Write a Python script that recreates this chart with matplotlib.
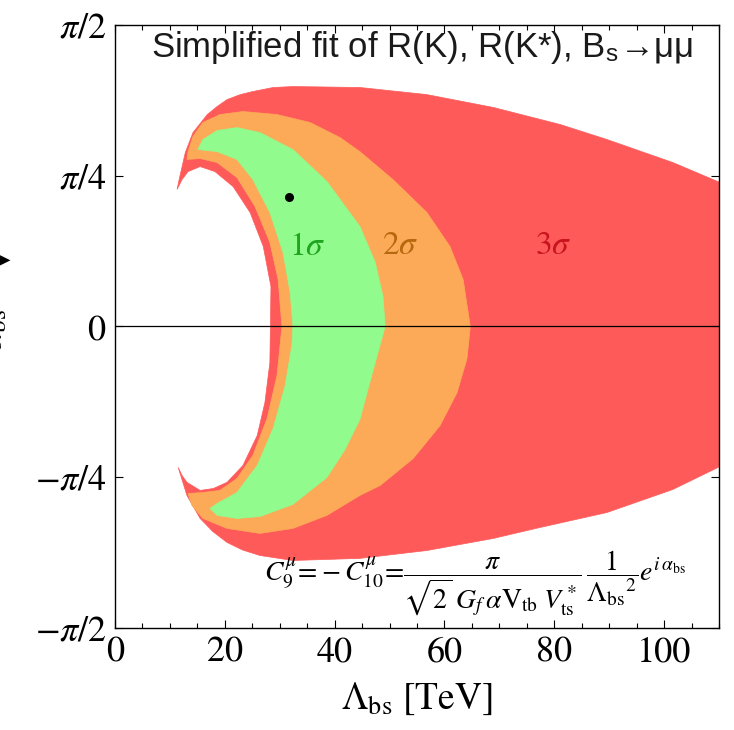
import numpy as np
import matplotlib
matplotlib.use("Agg")
import matplotlib.pyplot as plt

plt.rcParams['mathtext.fontset'] = 'stix'
plt.rcParams['font.family'] = ['STIXGeneral', 'DejaVu Sans']

# boundaries of the allowed regions (Lambda_bs in TeV, alpha_bs in rad)
red_lam = [11.3, 11.8, 12.8, 14.2, 16.8, 18.6, 20.4, 22.8, 25.1, 28.8, 32.4, 44.6, 56.8, 68.9, 81.1, 89.6, 101.6, 110.2, 116.0,
           116.0, 110.2, 101.6, 89.6, 77.4, 68.9, 56.8, 44.6, 32.4, 26.4, 23.2, 20.4, 17.8, 15.5, 13.1, 11.5,
           12.2, 13.1, 15.5, 17.9, 20.4, 23.3, 25.9, 27.3, 28.2, 28.3,
           28.4, 27.0, 24.6, 21.5, 18.2, 15.5, 13.3, 12.2]
red_alpha = [0.714, 0.781, 0.906, 1.010, 1.104, 1.146, 1.182, 1.208, 1.224, 1.245, 1.250, 1.245, 1.208, 1.141, 1.052, 0.974, 0.854, 0.750, 0.68,
             -0.65, -0.729, -0.849, -0.969, -1.047, -1.104, -1.167, -1.208, -1.219, -1.193, -1.164, -1.125, -1.068, -1.0, -0.880, -0.734,
             -0.776, -0.812, -0.854, -0.844, -0.812, -0.724, -0.568, -0.396, -0.188, 0.0,
             0.208, 0.417, 0.594, 0.729, 0.807, 0.833, 0.807, 0.765]

orange_lam = [13.1, 13.3, 14.2, 16.0, 19.1, 23.3, 29.5, 35.5, 41.0, 44.6, 50.6, 56.8, 61.0, 63.4, 64.7,
              64.1, 62.3, 59.2, 54.3, 48.3, 44.6, 38.6, 32.4, 26.4, 20.4, 16.0, 14.0, 13.3,
              16.0, 19.1, 22.2, 25.1, 27.7, 29.5, 30.4,
              29.7, 28.2, 25.5, 22.2, 18.6, 15.5]
orange_alpha = [0.870, 0.911, 0.990, 1.063, 1.104, 1.120, 1.104, 1.063, 0.984, 0.911, 0.766, 0.594, 0.417, 0.245, 0.0,
                -0.167, -0.344, -0.516, -0.688, -0.828, -0.880, -0.984, -1.052, -1.078, -1.052, -1.0, -0.932, -0.870,
                -0.865, -0.854, -0.792, -0.672, -0.479, -0.255, 0.0,
                0.245, 0.438, 0.625, 0.776, 0.854, 0.875]

green_lam = [15.1, 16.0, 18.6, 22.2, 26.4, 32.4, 38.6, 44.6, 47.4, 48.8, 49.2,
             47.9, 46.4, 44.6, 41.9, 38.6, 32.4, 26.4, 22.2, 18.6, 17.3,
             18.6, 22.2, 25.9, 28.8, 31.0, 32.2, 32.4,
             31.9, 30.6, 28.2, 25.1, 22.2, 18.6]
green_alpha = [0.922, 0.974, 1.021, 1.036, 1.010, 0.922, 0.755, 0.521, 0.333, 0.156, 0.0,
               -0.135, -0.292, -0.484, -0.641, -0.786, -0.927, -0.990, -1.0, -0.984, -0.948,
               -0.922, -0.865, -0.724, -0.531, -0.307, -0.099, 0.0,
               0.177, 0.385, 0.594, 0.766, 0.870, 0.911]

best_fit = (31.6, 0.675)

sigma_labels = ['$1\\sigma$', '$2\\sigma$', '$3\\sigma$']
sigma_lam = [35.0, 51.9, 79.8]
sigma_alpha = [0.411, 0.417, 0.417]
sigma_colors = ['#1fa51f', '#b5680e', '#c8141e']

xticks = [0, 20, 40, 60, 80, 100]
yticks = [-np.pi / 2, -np.pi / 4, 0, np.pi / 4, np.pi / 2]
ytick_labels = ['$-\\pi/2$', '$-\\pi/4$', '$0$', '$\\pi/4$', '$\\pi/2$']

fig = plt.figure(figsize=(7.34, 7.30), dpi=100)
ax = fig.add_axes([0.1567, 0.1397, 0.8229, 0.8261])

ax.fill(red_lam, red_alpha, color='#ff5a5a', lw=0.5)
ax.fill(orange_lam, orange_alpha, color='#fcaa58', lw=0.5)
ax.fill(green_lam, green_alpha, color='#91fb8d', lw=0.5)
ax.axhline(0, color='black', lw=0.9)
ax.plot([best_fit[0]], [best_fit[1]], 'o', color='black', ms=5.5)

for lab, x, y, c in zip(sigma_labels, sigma_lam, sigma_alpha, sigma_colors):
    ax.text(x, y, lab, color=c, fontsize=24, ha='center', va='center')

ax.text(0.508, 0.963, 'Simplified fit of R(K), R(K*), B$_\\mathregular{s}$\u2192\u03bc\u03bc',
        transform=ax.transAxes, ha='center', va='center', fontsize=25,
        family=['Liberation Sans', 'DejaVu Sans'], color='#1a1a1a')

ax.text(0.596, 0.075,
        r'$C_9^{\mu}\!=\!-C_{10}^{\mu}\!=\!\dfrac{\pi}{\sqrt{2}\;G_f\,\alpha\mathrm{V}_{\rm tb}\;V^*_{\rm ts}}\,\dfrac{1}{{\Lambda_{\rm bs}}^2}e^{i\,\alpha_{\rm bs}}$',
        transform=ax.transAxes, ha='center', va='center', fontsize=20)

ax.set_xlim(0, 110)
ax.set_ylim(-np.pi / 2, np.pi / 2)
ax.set_xticks(xticks)
ax.set_xticks(np.arange(0, 111, 5), minor=True)
ax.set_yticks(yticks)
ax.set_yticklabels(ytick_labels)
ax.tick_params(which='both', direction='in', top=True, right=True, labelsize=26, width=0.8)
ax.tick_params(which='major', length=6, pad=6)
ax.tick_params(which='minor', length=3.5)
for s in ax.spines.values():
    s.set_linewidth(1.0)

ax.set_xlabel('$\\Lambda_{\\rm bs}$ [TeV]', fontsize=27, labelpad=8)

fig.text(10 / 734, 1 - 330 / 730, '$\\alpha_{\\rm bs}$', rotation=90, ha='right', va='center', fontsize=26)
fig.text(13 / 734, 1 - 259 / 730, '\u25bc', rotation=90, ha='right', va='center', fontsize=20,
         family='DejaVu Sans')

fig.savefig('out.png', dpi=100)
